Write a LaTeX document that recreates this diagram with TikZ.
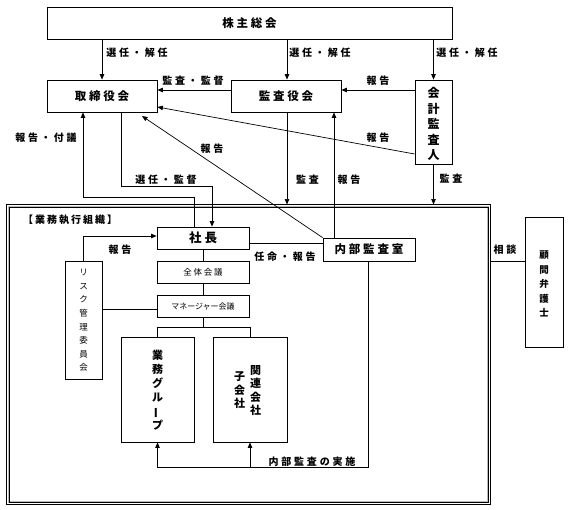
\documentclass[tikz,border=0pt]{standalone}
\usepackage{fontspec}
\setmainfont{Noto Sans CJK JP}
\newfontfamily\jplbl{Noto Sans CJK JP}[LetterSpace=28]
\newfontfamily\jpttl{Noto Sans CJK JP}[LetterSpace=24]
\newfontfamily\jpsm{Noto Sans CJK JP}[LetterSpace=20]
\usetikzlibrary{arrows.meta}
\tikzset{
  box/.style={draw, line width=0.8pt, inner sep=0pt, anchor=center},
  ttl/.style={font=\jpttl\bfseries\fontsize{11.5}{14}\selectfont},
  lbl/.style={inner sep=0pt, font=\jplbl\bfseries\fontsize{10}{12}\selectfont},
  smt/.style={font=\jpsm\fontsize{8.5}{10}\selectfont},
  vt/.style={align=center, inner sep=0pt},
  ln/.style={line width=0.7pt},
  arr/.style={line width=0.7pt, -{Triangle[length=5.5pt,width=4.5pt]}},
  frameedge/.style={line width=0.7pt, draw=black},
}
\begin{document}
\begin{tikzpicture}[x=1pt,y=-1pt]
\useasboundingbox (0,0) rectangle (569,509);
% level helpers
\coordinate (h90) at (0,90);
\coordinate (h107) at (0,107);
\coordinate (h154) at (0,154);
\coordinate (h186) at (0,186);
\coordinate (h197) at (0,197);
\coordinate (h236) at (0,236);
\coordinate (h243) at (0,243);
\coordinate (h261) at (0,261);
\coordinate (h309) at (0,309);
\coordinate (h327) at (0,327);
\coordinate (h467) at (0,467);
\coordinate (v83) at (83,0);
\coordinate (v121) at (121,0);
\coordinate (v194) at (194,0);
\coordinate (v212) at (212,0);
\coordinate (v287) at (287,0);
\coordinate (v334) at (334,0);
\coordinate (v368) at (368,0);
\coordinate (diagEnd) at (142,116);

% frame (double line: dark edges, grey core)
\node[draw=gray!55, line width=2.4pt,
      minimum width=479pt, minimum height=295pt, inner sep=0pt] (frame) at (248.5,354.5) {};
\draw[frameedge] ([xshift=-1.2pt,yshift=1.2pt]frame.north west) rectangle ([xshift=1.2pt,yshift=-1.2pt]frame.south east);
\draw[frameedge] ([xshift=1.2pt,yshift=-1.2pt]frame.north west) rectangle ([xshift=-1.2pt,yshift=1.2pt]frame.south east);

% boxes
\node[box, ttl, minimum width=405pt, minimum height=32pt] (kabu) at (249.5,23) {株主総会};
\node[box, ttl, minimum width=110pt, minimum height=32pt] (tori) at (102,96) {取締役会};
\node[box, ttl, minimum width=110pt, minimum height=32pt] (kansa) at (286,96) {監査役会};
\node[box, minimum width=37pt, minimum height=84pt] (kaikei) at (433.5,122) {};
\node[vt, font=\bfseries\fontsize{12}{15.5}\selectfont] (kaikeiT) at (433.5,124) {会\\計\\監\\査\\人};
\node[box, ttl, font=\jpttl\bfseries\fontsize{12.5}{14}\selectfont, minimum width=92pt, minimum height=22pt] (shacho) at (203,238) {社長};
\node[box, ttl, minimum width=92pt, minimum height=23pt] (naibu) at (369,249.5) {内部監査室};
\node[box, smt, minimum width=92pt, minimum height=22pt] (zentai) at (203,272) {全体会議};
\node[box, font=\fontsize{8}{10}\selectfont, minimum width=92pt, minimum height=22pt] (mgr) at (203,306) {マネージャー会議};
\node[box, minimum width=37pt, minimum height=118pt] (risk) at (83.5,320) {};
\node[vt, font=\fontsize{8.5}{13.6}\selectfont] (riskT) at (83.5,320.5) {リ\\ス\\ク\\管\\理\\委\\員\\会};
\node[box, minimum width=73pt, minimum height=105pt] (gyomu) at (157.5,389.5) {};
\node[vt, font=\bfseries\fontsize{11}{14}\selectfont] (gyomuT) at (157.5,390) {業\\務\\グ\\ル\\\rotatebox[origin=c]{90}{ー}\\プ};
\node[box, minimum width=74pt, minimum height=105pt] (kanren) at (250,389.5) {};
\node[vt, font=\bfseries\fontsize{11}{13.5}\selectfont] (kanrenA) at (255.5,390.5) {関\\連\\会\\社};
\node[vt, font=\bfseries\fontsize{11}{13.5}\selectfont] (kanrenB) at (239.5,390.5) {子\\会\\社};
\node[box, minimum width=38pt, minimum height=130pt] (komon) at (544,282) {};
\node[vt, font=\bfseries\fontsize{9.5}{14.5}\selectfont] (komonT) at (544,284) {顧\\問\\弁\\護\\士};

% connectors
\draw[arr] (kabu.south -| tori.north) -- (tori.north);
\draw[arr] (kabu.south -| v287) -- (kansa.north -| v287);
\draw[arr] (kabu.south -| kaikei.north) -- (kaikei.north);
\draw[arr] (kansa.west |- h90) -- (tori.east |- h90);
\draw[arr] (kaikei.west |- h90) -- (kansa.east |- h90);
\draw[arr] (kaikei.west |- h154) -- (tori.east |- h107);
\draw[arr] (naibu.north west) -- (diagEnd);
\draw[arr] (shacho.north -| v194) |- (v83 |- h197) -- (tori.south -| v83);
\draw[arr] (tori.south -| v121) |- (v212 |- h186) -- (shacho.north -| v212);
\draw[arr, shorten >=1.3pt] (kansa.south -| v287) -- (frame.north -| v287);
\draw[arr] (naibu.north -| v334) -- (kansa.south -| v334);
\draw[arr, shorten >=1.3pt] (kaikei.south) -- (frame.north -| kaikei.south);
\draw[ln] ([xshift=1.2pt]frame.east |- h261) -- (komon.west |- h261);
\draw[ln] (shacho.east |- h243) -- (naibu.west |- h243);
\draw[arr] (risk.north) |- (shacho.west |- h236);
\draw[ln] (risk.east |- h309) -- (mgr.west |- h309);
\draw[ln] (shacho.south) -- (zentai.north);
\draw[ln] (zentai.south) -- (mgr.north);
\draw[ln] (mgr.south) -- (mgr.south |- h327);
\draw[ln] (gyomu.north) |- (kanren.north |- h327) -- (kanren.north);
\draw[arr] (naibu.south -| v368) |- (gyomu.south |- h467) -- (gyomu.south);
\draw[arr] (kanren.south |- h467) -- (kanren.south);

% labels
\node[lbl] (l1) at (137,53) {選任・解任};
\node[lbl] (l2) at (320,53) {選任・解任};
\node[lbl] (l3) at (467,53) {選任・解任};
\node[lbl] (l4) at (193,81) {監査・監督};
\node[lbl] (l5) at (378,81) {報告};
\node[lbl] (l6) at (378,138) {報告};
\node[lbl] (l7) at (46,138) {報告・付議};
\node[lbl] (l8) at (212,149) {報告};
\node[lbl] (l9) at (166,180) {選任・監督};
\node[lbl] (l10) at (307.5,180) {監査};
\node[lbl] (l11) at (349,180) {報告};
\node[lbl] (l12) at (451,179) {監査};
\node[lbl, font=\jpsm\bfseries\fontsize{10}{12}\selectfont] (l13) at (70,220) {【業務執行組織】};
\node[lbl] (l14) at (120,250) {報告};
\node[lbl] (l15) at (285,257) {任命・報告};
\node[lbl] (l16) at (505,250) {相談};
\node[lbl] (l17) at (312,462) {内部監査の実施};
\end{tikzpicture}
\end{document}
